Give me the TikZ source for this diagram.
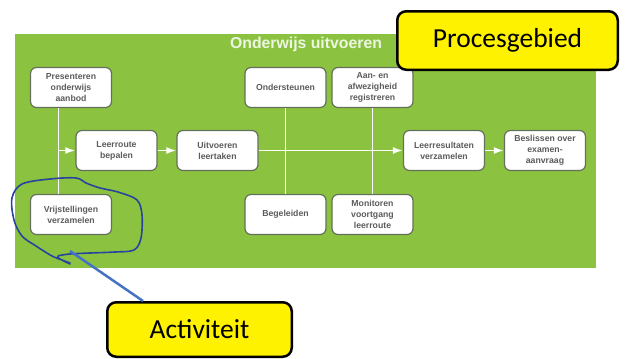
\documentclass[tikz,border=0pt]{standalone}
\usepackage{fontspec}
\setmainfont{Liberation Sans}
\newfontfamily\calloutfont{Carlito}
\usetikzlibrary{arrows.meta}

\definecolor{procesgroen}{RGB}{139,195,64}
\definecolor{randgrijs}{RGB}{100,112,90}
\definecolor{tekstgrijs}{RGB}{92,92,92}
\definecolor{titelwit}{RGB}{236,246,226}
\definecolor{penblauw}{RGB}{40,68,158}
\definecolor{lijnblauw}{RGB}{68,114,196}

\tikzset{
  activity/.style={rectangle, rounded corners=6pt, draw=randgrijs, line width=1.2pt,
    fill=white, minimum width=81pt, minimum height=40pt, inner sep=1pt, align=center,
    text=tekstgrijs, font=\fontsize{8.7}{11}\selectfont\bfseries},
  callout/.style={rectangle, rounded corners=9pt, draw=black, line width=2.5pt,
    fill=yellow, inner sep=0pt, font=\calloutfont\fontsize{27.5}{30}\selectfont},
  flow/.style={draw=white, line width=1.8pt},
}

\begin{document}
\begin{tikzpicture}[x=1pt, y=-1pt, >={Latex[length=10pt,width=7pt]}]
\useasboundingbox (0,0) rectangle (625,359);
\fill[procesgroen] (15,34) rectangle (596,268);
\node (titel) at (306,44) [text=titelwit, font=\fontsize{15.8}{18}\selectfont\bfseries] {Onderwijs uitvoeren};

% activiteiten
\node (pres)  at (71,87.5)    [activity] {Presenteren\\onderwijs\\aanbod};
\node (leer)  at (116.5,150.5) [activity] {Leerroute\\bepalen};
\node (uitv)  at (217.5,150.5) [activity] {Uitvoeren\\leertaken};
\node (onder) at (285.5,87.5)  [activity] {Ondersteunen};
\node (aanw)  at (372.5,87.5)  [activity] {Aan- en\\afwezigheid\\registreren};
\node (res)   at (444,150.5)   [activity] {Leerresultaten\\verzamelen};
\node (besl)  at (545,150.5)   [activity] {Beslissen over\\examen-\\aanvraag};
\node (vrij)  at (71,214.5)    [activity] {Vrijstellingen\\verzamelen};
\node (begel) at (285.5,214.5) [activity] {Begeleiden};
\node (monit) at (372.5,214.5) [activity] {Monitoren\\voortgang\\leerroute};
\coordinate (split) at (58.5,150.5);

\draw[flow] (pres.south -| split) -- (vrij.north -| split);
\draw[flow, ->] (split) -- (leer);
\draw[flow, ->] (leer) -- (uitv);
\draw[flow, ->] (uitv) -- (res);
\draw[flow, ->] (res) -- (besl);
\draw[flow] (onder) -- (begel);
\draw[flow] (aanw) -- (monit);

% annotaties
\node (proces) at (507.5,40.5) [callout, minimum width=220.5pt, minimum height=58.5pt] {Procesgebied};
\node (act) at (199.5,329.5) [callout, minimum width=184.5pt, minimum height=54.5pt] {Activiteit};
\draw[penblauw, line width=1.6pt, line cap=round, line join=round]
  plot[smooth, tension=0.55] coordinates {(70,264) (60,259) (58,256) (70,254) (90,253)
  (115,252) (134,250) (141,238) (142,215) (137,200) (118,192) (100,188) (86,183)
  (76,178) (50,179) (22,184) (12,198) (14,220) (22,236) (36,246) (52,256) (62,260) (70,263)};
\coordinate (pen) at (70,251);
\draw[lijnblauw, line width=2.5pt] (pen) -- ([xshift=-56.5pt]act.north);
\end{tikzpicture}
\end{document}
